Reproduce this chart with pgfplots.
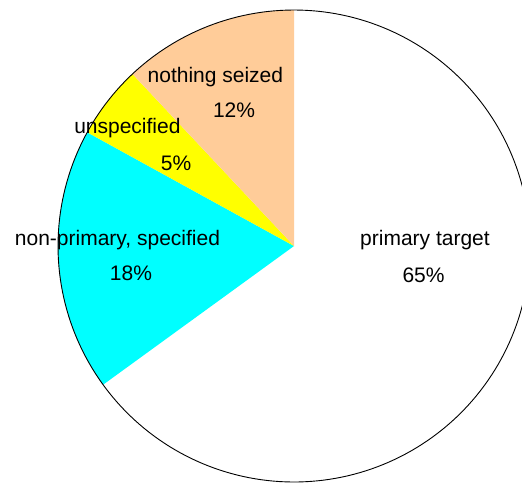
\documentclass[border=0pt]{standalone}
\usepackage{fontspec}
\setmainfont{Liberation Sans}
\usepackage{pgfplots}
\usepackage{pgfplotstable}
\pgfplotsset{compat=1.18}
\definecolor{peach}{RGB}{255,204,153}
\definecolor{pcyan}{RGB}{0,255,255}
\definecolor{pyellow}{RGB}{255,255,0}
\definecolor{pwhite}{RGB}{255,255,255}
\pgfplotstableread{
pct color
65 pwhite
18 pcyan
5 pyellow
12 peach
}\piedata
\begin{document}
\begin{tikzpicture}
\begin{axis}[scale only axis, width=522pt, height=483pt,
  xmin=-1.2458, xmax=0.9661, ymin=-1.0042, ymax=1.0424,
  hide axis, clip=true]
\gdef\angstart{90}
\pgfplotsforeachungrouped \i in {0,...,3}{%
  \pgfplotstablegetelem{\i}{pct}\of\piedata \let\p=\pgfplotsretval
  \pgfplotstablegetelem{\i}{color}\of\piedata \let\c=\pgfplotsretval
  \pgfmathsetmacro\angend{\angstart-3.6*\p}%
  \edef\tmp{\noexpand\addplot[fill=\c, draw=none, domain=\angend:\angstart, samples=120] ({cos(x)},{sin(x)}) -- (axis cs:0,0) -- cycle;}%
  \tmp
  \global\let\angstart=\angend
}
\addplot[black, line width=0.9pt, domain=0:360, samples=240] ({cos(x)},{sin(x)});
\tikzset{lbl/.style={font=\fontsize{21}{25}\selectfont, text=black, inner sep=0pt}}
\node[lbl] at (axis cs:0.555,0.025) {primary target};
\node[lbl] at (axis cs:0.549,-0.123) {65\%};
\node[lbl] at (axis cs:-0.748,0.025) {non-primary, specified};
\node[lbl] at (axis cs:-0.691,-0.114) {18\%};
\node[lbl] at (axis cs:-0.706,0.5) {unspecified};
\node[lbl] at (axis cs:-0.5,0.352) {5\%};
\node[lbl] at (axis cs:-0.333,0.716) {nothing seized};
\node[lbl] at (axis cs:-0.254,0.576) {12\%};
\end{axis}
\pgfresetboundingbox
\useasboundingbox (current axis.south west) rectangle (current axis.north east);
\end{tikzpicture}
\end{document}
